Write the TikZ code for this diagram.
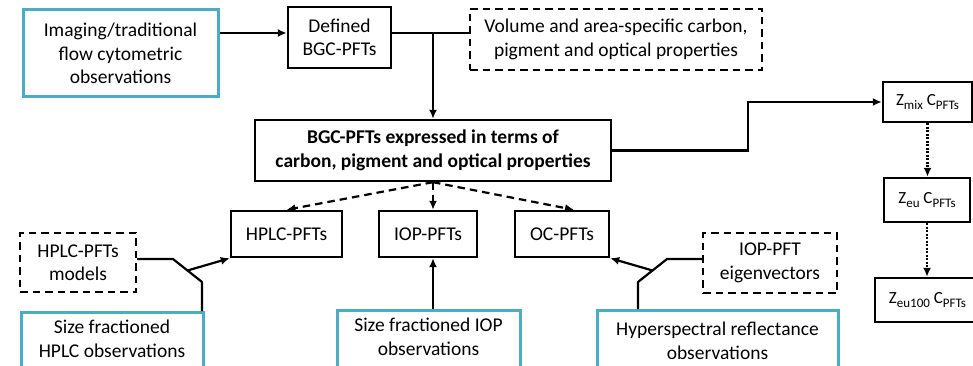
\documentclass[tikz,border=0pt]{standalone}
\usepackage{fontspec}
\setmainfont{Carlito}
\usetikzlibrary{arrows.meta,calc}
\definecolor{obsblue}{RGB}{75,172,198}
% lowered, smaller subscript text for the depth-layer labels
\newcommand\zsub[1]{\raisebox{-3.5pt}{\fontsize{13}{13}\selectfont #1}}
\begin{document}
\begin{tikzpicture}[
  x=1pt, y=-1pt,
  font=\fontsize{19.5}{23.5}\selectfont,
  box/.style={rectangle, inner sep=0pt, align=center, text=black},
  plainbox/.style={box, draw=black, line width=2.4pt},
  dashbox/.style={box, draw=black, line width=2.4pt, dash pattern=on 7.5pt off 5pt},
  obsbox/.style={box, draw=obsblue, line width=3pt},
  txt/.style={inner sep=0pt, align=center, text=black},
  zfont/.style={font=\fontsize{17}{20}\selectfont},
  conn/.style={draw=black, line width=2.2pt},
  arr/.style={conn, -{Latex[length=9pt,width=8pt]}},
  dasharr/.style={arr, dash pattern=on 7.5pt off 5pt},
  dotarr/.style={arr, dash pattern=on 2pt off 1.5pt},
]
\useasboundingbox (0,0) rectangle (973,366);
\clip (0,0) rectangle (973,366);

% top row
\node[obsbox, minimum width=195, minimum height=87] (img) at (120.5,53.5)
  {Imaging/traditional\\flow cytometric\\observations};
\node[plainbox, minimum width=103, minimum height=61] (def) at (339.5,37.5)
  {Defined\\BGC-PFTs};
\node[dashbox, minimum width=292, minimum height=61] (vol) at (616,39.5)
  {Volume and area-specific carbon,\\pigment and optical properties};

% central box
\node[plainbox, minimum width=356, minimum height=61, font=\fontsize{19.5}{23.5}\selectfont\bfseries] (main) at (433,150.5)
  {BGC-PFTs expressed in terms of\\carbon, pigment and optical properties};

% depth-layer column
\node[plainbox, zfont, minimum width=89, minimum height=40] (zmix) at (927.5,102)
  {Z\zsub{mix} C\zsub{PFTs}};
\node[plainbox, zfont, minimum width=86, minimum height=44] (zeu) at (927,200)
  {Z\zsub{eu} C\zsub{PFTs}};
\node[plainbox, zfont, minimum width=105, minimum height=44] (zeu100) at (927.5,300)
  {Z\zsub{eu100} C\zsub{PFTs}};

% PFT products
\node[plainbox, minimum width=111, minimum height=46] (hplc) at (286.5,234) {HPLC-PFTs};
\node[plainbox, minimum width=98, minimum height=46] (iop) at (428,234) {IOP-PFTs};
\node[plainbox, minimum width=94, minimum height=46] (oc) at (562,234) {OC-PFTs};

% model inputs
\node[dashbox, minimum width=116, minimum height=59] (hplcm) at (78,262.5)
  {HPLC-PFTs\\models};
\node[dashbox, minimum width=134, minimum height=60] (iopeig) at (770,263)
  {IOP-PFT\\eigenvectors};

% observation boxes along the lower edge
\node[obsbox, anchor=north, minimum width=182, minimum height=80] (sfhplc) at (112,311) {};
\node[txt] (sfhplc-t) at (112,339) {Size fractioned\\HPLC observations};
\node[obsbox, anchor=north, minimum width=183, minimum height=80] (sfiop) at (428.5,309) {};
\node[txt] (sfiop-t) at (428.5,337) {Size fractioned IOP\\observations};
\node[obsbox, anchor=north, minimum width=241, minimum height=80] (hyper) at (717.5,309) {};
\node[txt] (hyper-t) at (717.5,341) {Hyperspectral reflectance\\observations};

% junction and bend points
\coordinate (j1) at (433,33);
\coordinate (k1) at (748,102);
\coordinate (m1) at (173,259);
\coordinate (m2) at (202,282);
\coordinate (n1) at (667,259);
\coordinate (n2) at (638,282);

% top connectors
\draw[arr] (img.east |- j1) -- (def.west |- j1);
\draw[conn] (def.east |- j1) -- (vol.west |- j1);
\draw[arr] (j1) -- (main.north);

% to the depth layers
\draw[arr] (main.east) -| (k1) -- (zmix.west);
\draw[dotarr] (zmix.south) -- (zmix.south |- zeu.north);
\draw[dotarr] (zeu.south) -- (zeu.south |- zeu100.north);

% central box to products
\draw[dasharr] (main.south) -- (hplc.north);
\draw[dasharr] (main.south) -- (main.south |- iop.north);
\draw[dasharr] (main.south) -- ($(oc.north)+(12,0)$);

% merged inputs
\draw[conn, line join=round] (hplcm.east |- m1) -- (m1) -- (m2) -- (m2 |- sfhplc.north);
\draw[arr] ($(m1)!0.5!(m2)$) -- (hplc.south west);
\draw[conn, line join=round] (iopeig.west |- n1) -- (n1) -- (n2) -- (n2 |- hyper.north);
\draw[arr] ($(n1)!0.5!(n2)$) -- (oc.south east);
\draw[arr] (main.south |- sfiop.north) -- (main.south |- iop.south);
\end{tikzpicture}
\end{document}
